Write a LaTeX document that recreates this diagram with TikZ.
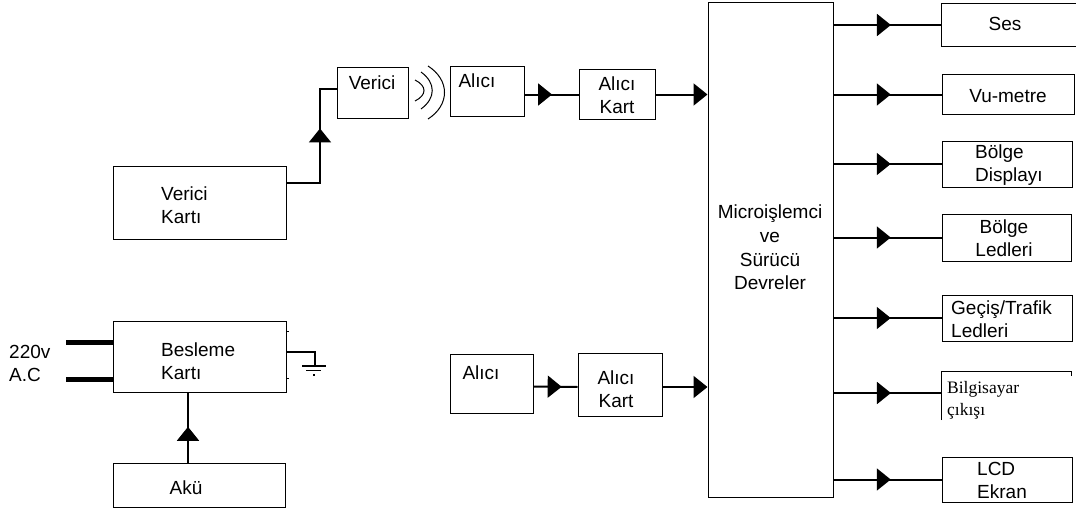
\documentclass[tikz,border=0pt]{standalone}
\usepackage{fontspec}
\setmainfont{Liberation Sans}
\newfontfamily\serifbox{Liberation Serif}
\usetikzlibrary{arrows.meta,decorations.markings,calc}
\begin{document}
\begin{tikzpicture}[x=1pt,y=-1pt,
  box/.style={draw, line width=1pt, inner sep=0pt},
  openbox/.style={inner sep=0pt},
  txt/.style={inner sep=0pt, font=\fontsize{19}{23}\selectfont},
  conn/.style={line width=2pt},
  tri/.tip={Triangle[length=14pt,width=22pt]},
  midarr/.style={postaction={decorate}, decoration={markings, mark=at position #1 with {\arrow{tri}}}},
]
\fill[white] (0,0) rectangle (1076,511);
\useasboundingbox (0,0) rectangle (1076,511);

% ---- boxes ----
\node[box, minimum width=71, minimum height=50] (verici) at (372.5,93) {};
\node[box, minimum width=74, minimum height=49] (alici1) at (487,91.5) {};
\node[box, minimum width=76, minimum height=49] (alicikart1) at (617,94.5) {};
\node[box, minimum width=173, minimum height=73] (vkart) at (199.5,202.5) {};
\node[box, minimum width=125, minimum height=494] (micro) at (770.5,250) {};
\node[openbox, minimum width=134, minimum height=42] (ses) at (1009,25) {};
\node[box, minimum width=132, minimum height=39] (vu) at (1008,94.5) {};
\node[box, minimum width=130, minimum height=46] (bdisp) at (1007,164) {};
\node[box, minimum width=129, minimum height=47] (bled) at (1006.5,237.5) {};
\node[box, minimum width=130, minimum height=46] (gecis) at (1007,318) {};
\node[openbox, minimum width=129, minimum height=48] (bilg) at (1006.5,396) {};
\node[box, minimum width=130, minimum height=45] (lcd) at (1007,479.5) {};
\node[box, minimum width=83, minimum height=59] (alici2) at (491.5,383.5) {};
\node[box, minimum width=84, minimum height=63] (alicikart2) at (620,384.5) {};
\node[box, minimum width=173, minimum height=71] (besleme) at (199.5,356.5) {};
\node[box, minimum width=172, minimum height=44] (aku) at (199,485) {};

% open boxes
\draw[line width=1pt] (ses.north east) -- (ses.north west) -- (ses.south west) -- (ses.south east);
\draw[line width=1pt] (bilg.south west) -- (bilg.north west) -- (bilg.north east) -- ++(0,4);

% ---- texts ----
\node[txt] (tverici) at (372,83) {Verici};
\node[txt] (talici1) at (477,81) {Alıcı};
\node[txt, align=center] (talicikart1) at (617,95) {Alıcı\\Kart};
\node[txt, align=left, anchor=west] (tvkart) at (161,205.5) {Verici\\Kartı};
\node[txt, align=center, font=\fontsize{19}{23.6}\selectfont] (tmicro) at (770,247.5) {Microişlemci\\ve\\Sürücü\\Devreler};
\node[txt] (tses) at (1005,24) {Ses};
\node[txt] (tvu) at (1008,96) {Vu-metre};
\node[txt, align=left, anchor=west] (tbdisp) at (975,165) {Bölge\\Displayı};
\node[txt, align=center] (tbled) at (1004,238.5) {Bölge\\Ledleri};
\node[txt, align=left, anchor=west] (tgecis) at (951,319.5) {Geçiş/Trafik\\Ledleri};
\node[inner sep=0pt, align=left, anchor=west, font=\serifbox\fontsize{17.5}{22}\selectfont] (tbilg) at (947,400) {Bilgisayar\\çıkışı};
\node[txt, align=left, anchor=west] (tlcd) at (977,480) {LCD\\Ekran};
\node[txt] (talici2) at (481,373) {Alıcı};
\node[txt, align=center] (talicikart2) at (616,389) {Alıcı\\Kart};
\node[txt, align=left, anchor=west] (tbesleme) at (161,361) {Besleme\\Kartı};
\node[txt, align=left, anchor=west] (tac) at (9,363.5) {220v\\A.C};
\node[txt] (taku) at (186,488) {Akü};

% ---- coordinates ----
\coordinate (vout) at ($(vkart.east)+(0,-20)$);
\coordinate (vin) at ($(verici.west)+(0,-4)$);
\coordinate (bend1) at (320,0);
\coordinate (ac1) at (66,342);
\coordinate (ac2) at (66,379);
\coordinate (akuout) at ($(aku.north)+(-11,0)$);
\coordinate (gnd) at (315,366);

% ---- connectors ----
\draw[conn, midarr=0.61] (vout) -- (bend1 |- vout) -- (bend1 |- vin) -- (vin);
\draw[conn, midarr=0.51] (alici1.east |- alicikart1.west) -- (alicikart1.west);
\draw[conn, -{tri}] (alicikart1.east) -- (alicikart1.east -| micro.west);
\draw[conn, midarr=0.64] ($(alici2.east)+(0,3)$) -- ($(alicikart2.west)+(0,2.5)$);
\draw[conn, -{tri}] ($(alicikart2.east)+(0,2.5)$) -- ($(alicikart2.east -| micro.west)+(0,2.5)$);

\draw[conn, midarr=0.53] (micro.east |- ses.west) -- (ses.west);
\draw[conn, midarr=0.53] (micro.east |- vu.west) -- (vu.west);
\draw[conn, midarr=0.53] (micro.east |- bdisp.west) -- (bdisp.west);
\draw[conn, midarr=0.53] (micro.east |- bled.west) -- (bled.west);
\draw[conn, midarr=0.53] (micro.east |- gecis.west) -- (gecis.west);
\draw[conn, midarr=0.53] ($(micro.east |- bilg.west)+(0,-3)$) -- ($(bilg.west)+(0,-3)$);
\draw[conn, midarr=0.53] (micro.east |- lcd.west) -- (lcd.west);

\draw[conn, midarr=0.51] (akuout) -- (akuout |- besleme.south);

% power input
\draw[line width=5pt] (ac1) -- (ac1 -| besleme.west);
\draw[line width=5pt] (ac2) -- (ac2 -| besleme.west);

% ground
\draw[line width=1.5pt] ($(besleme.east)+(0,-4.5)$) -- ($(gnd |- besleme.east)+(0,-4.5)$) -- (gnd);
\draw[line width=1.5pt] ($(gnd)+(-13,0)$) -- ($(gnd)+(11,0)$);
\draw[line width=1.2pt] ($(gnd)+(-9,4.5)$) -- ($(gnd)+(6,4.5)$);
\fill ($(gnd)+(-2.5,8)$) rectangle ($(gnd)+(0,10)$);
\draw[line width=1pt] ($(besleme.north east)+(0,11)$) -- ++(2,0);
\draw[line width=1pt] ($(besleme.south east)+(0,-14)$) -- ++(2,0);

% waves
\draw[line width=1pt] (415,80) .. controls (427,86) and (427,95) .. (415,101);
\draw[line width=1pt] (421,72) .. controls (436,83) and (436,98) .. (421,109);
\draw[line width=1pt] (428,66) .. controls (450,80) and (450,105) .. (428,119);
\end{tikzpicture}
\end{document}
